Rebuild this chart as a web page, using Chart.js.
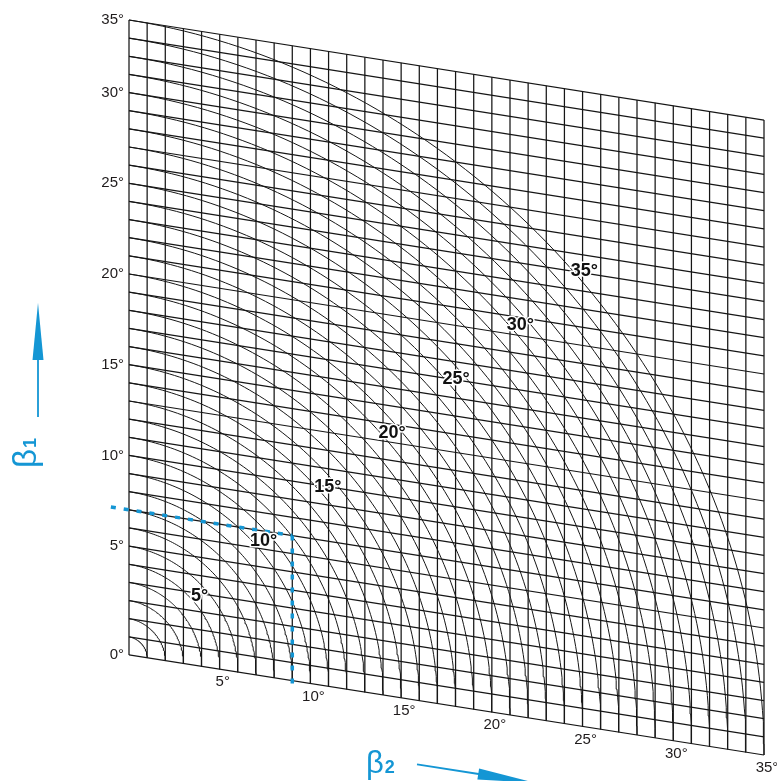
<!DOCTYPE html>
<html>
<head>
<meta charset="utf-8">
<script src="https://cdn.jsdelivr.net/npm/chart.js@4.4.0/dist/chart.umd.min.js"></script>
<style>
    body { margin: 0; background: #fff; }
    #wrap { width: 777px; height: 781px; position: relative; }
</style>
</head>
<body>
<div id="wrap"><canvas id="canvasNomo"></canvas></div>
<script>
// grid every degree for beta1 and beta2, arcs of combined angle every degree
const gridDegrees = [0, 1, 2, 3, 4, 5, 6, 7, 8, 9, 10, 11, 12, 13, 14, 15, 16, 17, 18,
    19, 20, 21, 22, 23, 24, 25, 26, 27, 28, 29, 30, 31, 32, 33, 34, 35]
const arcDegrees = [1, 2, 3, 4, 5, 6, 7, 8, 9, 10, 11, 12, 13, 14, 15, 16, 17, 18,
    19, 20, 21, 22, 23, 24, 25, 26, 27, 28, 29, 30, 31, 32, 33, 34, 35]
const beta1Ticks = [0, 5, 10, 15, 20, 25, 30, 35]
const beta2Ticks = [5, 10, 15, 20, 25, 30, 35]
const arcLabels = [5, 10, 15, 20, 25, 30, 35]
// worked example (dashed blue)
const exampleBeta1 = 8
const exampleBeta2 = 9

const SKEW = 0.1575   // beta1 lines drop this much per degree of beta2
const BLUE = '#1496d4'
const INK = '#161616'

function pt(b2, b1) {
    return { x: b2, y: b1 - SKEW * b2 }
}

function lineDs(points, extra) {
    return Object.assign({
        data: points,
        showLine: true,
        borderColor: INK,
        borderWidth: 1.25,
        pointRadius: 0,
        fill: false,
        clip: false
    }, extra || {})
}

const datasets = []

// example lines first so they are drawn on top
const dashed = { borderColor: BLUE, borderWidth: 3.5, borderDash: [5, 8] }
datasets.push(lineDs([pt(-1, exampleBeta1), pt(exampleBeta2, exampleBeta1)], dashed))
datasets.push(lineDs([pt(exampleBeta2, exampleBeta1), pt(exampleBeta2, -0.55)], dashed))

gridDegrees.forEach(d => {
    datasets.push(lineDs([pt(0, d), pt(35, d)]))
    datasets.push(lineDs([pt(d, 0), pt(d, 35)]))
})

arcDegrees.forEach(r => {
    const pts = []
    for (let a = 0; a <= 90; a++) {
        const t = a * Math.PI / 180
        pts.push(pt(r * Math.cos(t), r * Math.sin(t)))
    }
    datasets.push(lineDs(pts, { borderWidth: 1 }))
})

const labelsPlugin = {
    id: 'nomoLabels',
    afterDraw(chart) {
        const ctx = chart.ctx
        const xs = chart.scales.x
        const ys = chart.scales.y
        const px = (b2, b1) => [xs.getPixelForValue(b2), ys.getPixelForValue(b1 - SKEW * b2)]

        ctx.save()
        ctx.fillStyle = '#1f1b1c'
        ctx.font = '15px "Liberation Sans", Arial, sans-serif'
        ctx.textBaseline = 'middle'

        // beta1 ticks on the left (inner labels sit one degree above their line)
        ctx.textAlign = 'right'
        beta1Ticks.forEach(v => {
            const shift = (v > 0 && v < 35) ? 1 : 0
            const [x, y] = px(0, v + shift)
            ctx.fillText(v + '°', x - 5, y)
        })

        // beta2 ticks under the slanted bottom edge
        ctx.textAlign = 'center'
        beta2Ticks.forEach(v => {
            const [x, y] = px(v, 0)
            ctx.fillText(v + '°', x + 3, y + 13)
        })

        // arc labels
        ctx.font = 'bold 18px "Liberation Sans", Arial, sans-serif'
        arcLabels.forEach(v => {
            const r = v + 0.5
            const [x, y] = px(r * Math.SQRT1_2, r * Math.SQRT1_2)
            ctx.lineWidth = 3
            ctx.strokeStyle = '#fff'
            ctx.strokeText(v + '°', x, y)
            ctx.fillStyle = '#111'
            ctx.fillText(v + '°', x, y)
        })

        // axis names with arrows
        ctx.fillStyle = BLUE
        ctx.strokeStyle = BLUE
        ctx.textAlign = 'left'
        ctx.textBaseline = 'alphabetic'

        // beta1, reading upwards
        ctx.save()
        ctx.translate(36, 468)
        ctx.rotate(-Math.PI / 2)
        ctx.font = '33px "Liberation Sans", Arial, sans-serif'
        ctx.fillText('β', 0, 0)
        const w1 = ctx.measureText('β').width
        ctx.font = 'bold 18px "Liberation Sans", Arial, sans-serif'
        ctx.fillText('1', w1 + 1, 0)
        ctx.restore()

        ctx.lineWidth = 1.8
        ctx.beginPath()
        ctx.moveTo(38, 417)
        ctx.lineTo(38, 350)
        ctx.stroke()
        ctx.beginPath()
        ctx.moveTo(38, 303)
        ctx.lineTo(43.5, 360)
        ctx.lineTo(32.5, 360)
        ctx.closePath()
        ctx.fill()

        // beta2, arrow follows the slant of the grid
        ctx.font = '31px "Liberation Sans", Arial, sans-serif'
        ctx.fillText('β', 366, 773)
        const w2 = ctx.measureText('β').width
        ctx.font = 'bold 18px "Liberation Sans", Arial, sans-serif'
        ctx.fillText('2', 366 + w2 + 1, 773)

        const ang = Math.atan(SKEW)
        const sx = 417, sy = 764.3
        const len = 120, head = 58, hw = 5.5
        const cos = Math.cos(ang), sin = Math.sin(ang)
        const tx = sx + len * cos, ty = sy + len * sin
        const bx = tx - head * cos, by = ty - head * sin
        ctx.beginPath()
        ctx.moveTo(sx, sy)
        ctx.lineTo(bx + 2 * cos, by + 2 * sin)
        ctx.stroke()
        ctx.beginPath()
        ctx.moveTo(tx, ty)
        ctx.lineTo(bx - hw * sin, by + hw * cos)
        ctx.lineTo(bx + hw * sin, by - hw * cos)
        ctx.closePath()
        ctx.fill()

        ctx.restore()
    }
}

new Chart(document.getElementById('canvasNomo').getContext('2d'), {
    type: 'scatter',
    data: { datasets: datasets },
    options: {
        responsive: true,
        maintainAspectRatio: false,
        animation: false,
        layout: { padding: { left: 129, right: 13, top: 20, bottom: 26 } },
        plugins: {
            legend: { display: false },
            tooltip: { enabled: false }
        },
        scales: {
            x: { type: 'linear', min: 0, max: 35, display: false },
            y: { type: 'linear', min: -35 * SKEW, max: 35, display: false }
        }
    },
    plugins: [labelsPlugin]
});
</script>
</body>
</html>
